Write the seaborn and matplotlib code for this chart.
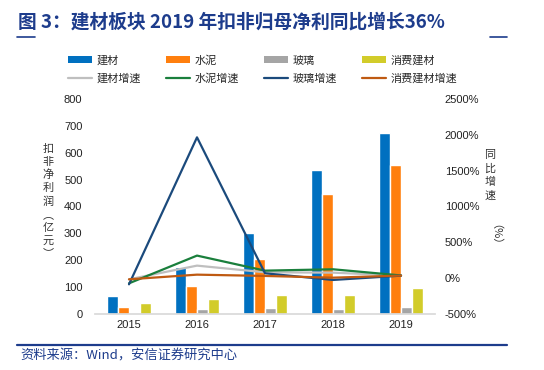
import numpy as np
import pandas as pd
import seaborn as sea
from matplotlib import pyplot as plt
from matplotlib.patches import Patch
from matplotlib.lines import Line2D
from matplotlib.ticker import FuncFormatter

sea.set_theme(style="white")
plt.rcParams['font.family'] = ['Liberation Sans', 'Noto Sans CJK SC', 'DejaVu Sans']

years = ["2015", "2016", "2017", "2018", "2019"]

# 扣非净利润（亿元）
jiancai = [66, 176, 300, 537, 675]
shuini = [26, 104, 205, 448, 554]
boli = [np.nan, 17, 24, 19, 25]
xiaofei = [40, 55, 72, 70, 96]

# 同比增速（%）
jiancai_g = [-16, 175, 82, 77, 35]
shuini_g = [-72, 315, 105, 124, 38]
boli_g = [-86, 1965, 68, -25, 35]
xiaofei_g = [-16, 49, 31, 7, 36]

bar_names = ["建材", "水泥", "玻璃", "消费建材"]
line_names = ["建材增速", "水泥增速", "玻璃增速", "消费建材增速"]
bar_colors = ["#0070C0", "#FF7F0E", "#A5A5A5", "#D2CC2A"]
line_colors = ["#BFBFBF", "#1A7F3C", "#1B4A7C", "#BF5A12"]

title_blue = "#1D3C8C"

bars = pd.DataFrame({"年份": years * 4,
                     "类别": np.repeat(bar_names, len(years)),
                     "值": jiancai + shuini + boli + xiaofei})
lines = pd.DataFrame({"年份": years * 4,
                      "类别": np.repeat(line_names, len(years)),
                      "值": jiancai_g + shuini_g + boli_g + xiaofei_g})

fig = plt.figure(figsize=(5.44, 3.70), dpi=100)
ax = fig.add_axes([95 / 544, 1 - 314 / 370, 340 / 544, 215 / 370])

sea.barplot(data=bars, x="年份", y="值", hue="类别", palette=bar_colors,
            width=0.66, gap=0, saturation=1, ax=ax, legend=False)
ax.set_ylim(0, 800)
ax.set_yticks(range(0, 801, 100))
ax.set_xlim(-0.5, 4.5)

ax2 = ax.twinx()
sea.lineplot(data=lines, x="年份", y="值", hue="类别", palette=line_colors,
             linewidth=1.6, ax=ax2, legend=False, sort=False)
ax2.set_ylim(-500, 2500)
ax2.set_yticks(range(-500, 2501, 500))
ax2.yaxis.set_major_formatter(FuncFormatter(lambda v, p: "%d%%" % v))

for a in (ax, ax2):
    a.set_xlabel("")
    a.set_ylabel("")
    for s in ["top", "left", "right"]:
        a.spines[s].set_visible(False)
    a.spines["bottom"].set_color("#D9D9D9")
    a.tick_params(axis="both", length=0, labelsize=8, colors="#222222", pad=4)
    a.grid(False)
ax2.spines["bottom"].set_visible(False)
ax.tick_params(axis="y", pad=9)
ax2.tick_params(axis="y", pad=7)

# legend: 4 columns, bars on first row, lines on second
handles = []
labels = []
for i in range(4):
    handles.append(Patch(facecolor=bar_colors[i], edgecolor="none"))
    labels.append(bar_names[i])
    handles.append(Line2D([0], [0], color=line_colors[i], linewidth=1.6))
    labels.append(line_names[i])
fig.legend(handles, labels, ncol=4, loc="upper left", bbox_to_anchor=(58 / 544, 1 - 45 / 370),
           frameon=False, handlelength=2.2, handleheight=0.5,
           columnspacing=2.2, handletextpad=0.4, labelspacing=0.7,
           prop={"family": ["Noto Sans CJK SC"], "size": 8})

# axis titles, vertical
fig.text(48 / 544, 1 - 201 / 370, "扣\n非\n净\n利\n润\n︵\n亿\n元\n︶", ha="center", va="center",
         fontsize=8, linespacing=1.35, family=["Noto Sans CJK SC"], color="#333333")
fig.text(490 / 544, 1 - 150 / 370, "同\n比\n增\n速", ha="center", va="top",
         fontsize=8, linespacing=1.4, family=["Noto Sans CJK SC"], color="#333333")
fig.text(490 / 544, 1 - 240 / 370, "（%）", ha="center", va="center", rotation=-90,
         fontsize=8, family=["Noto Sans CJK SC"], color="#333333")

# title and source
fig.text(18 / 544, 1 - 22 / 370, "图 3：建材板块 2019 年扣非归母净利同比增长36%", ha="left", va="center",
         fontsize=13.5, fontweight="bold", color=title_blue,
         family=["Noto Sans CJK SC", "DejaVu Sans"])
fig.add_artist(Line2D([17 / 544, 35 / 544], [1 - 37 / 370] * 2, color=title_blue, linewidth=1.2))
fig.add_artist(Line2D([490 / 544, 507 / 544], [1 - 37 / 370] * 2, color=title_blue, linewidth=1.2))
fig.add_artist(Line2D([17 / 544, 507 / 544], [1 - 345 / 370] * 2, color=title_blue, linewidth=1.6))
fig.text(20 / 544, 1 - 356 / 370, "资料来源：Wind，安信证券研究中心", ha="left", va="center",
         fontsize=9.5, color=title_blue, family=["Noto Sans CJK SC", "DejaVu Sans"])

plt.savefig("out.png", dpi=100)
